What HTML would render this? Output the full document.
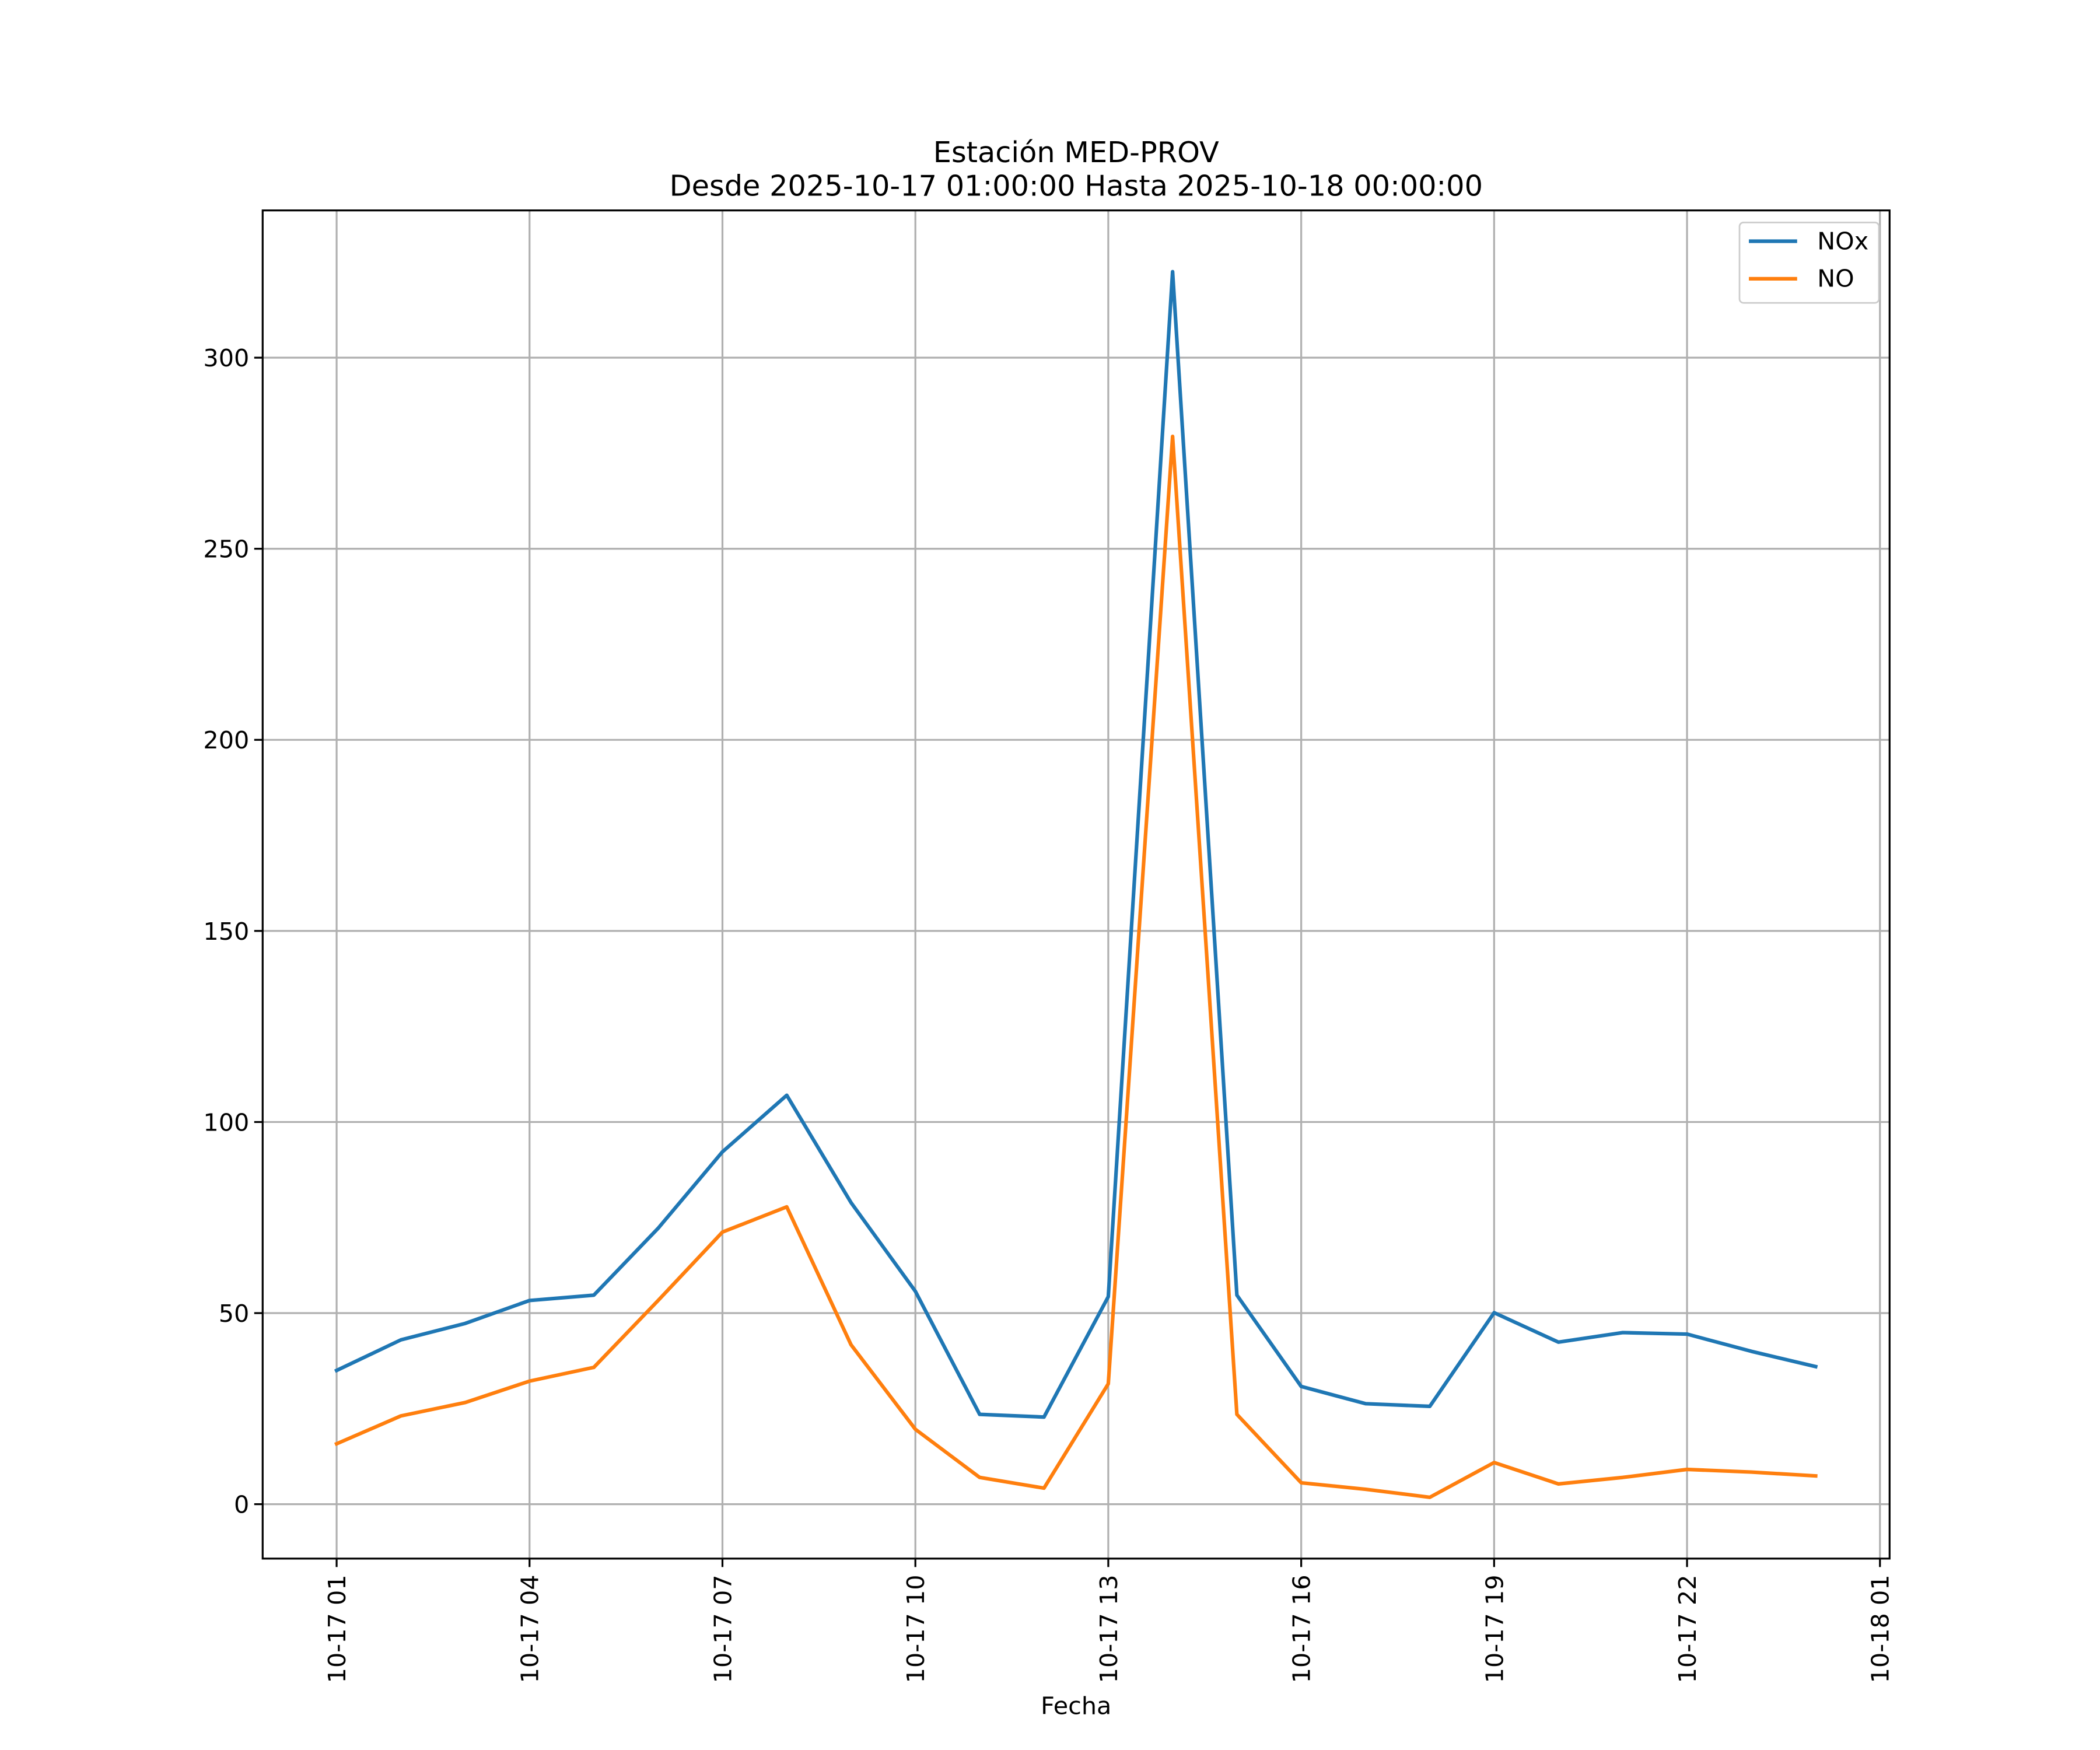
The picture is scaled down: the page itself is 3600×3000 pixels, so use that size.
<!DOCTYPE html>
<html><head><meta charset="utf-8"><style>html,body{margin:0;padding:0;background:#fff}svg{display:block}text{font-family:"DejaVu Sans","Liberation Sans",sans-serif;fill:#000}</style></head>
<body>
<svg id="chart" width="3600" height="3000" viewBox="0 0 1567 1305.83" xmlns="http://www.w3.org/2000/svg">
<rect width="1567" height="1306" fill="#fff"/>
<text x="803" y="121" text-anchor="middle" font-size="21.5">Estación MED-PROV</text>
<text x="803" y="146" text-anchor="middle" font-size="21.5">Desde 2025-10-17 01:00:00 Hasta 2025-10-18 00:00:00</text>
<g id="grid"></g><g id="series"></g><g id="ticks"></g>
<rect x="196" y="157" width="1214" height="1006" fill="none" stroke="#000" stroke-width="1.4"/>
<text x="803" y="1279" text-anchor="middle" font-size="18">Fecha</text>
<g>
<rect x="1298" y="166" width="104" height="60" rx="3" fill="#fff" fill-opacity="0.8" stroke="#ccc" stroke-width="1.2"/>
<line x1="1305" y1="180" x2="1341" y2="180" stroke="#1f77b4" stroke-width="2.7"/>
<text x="1356" y="186" font-size="18">NOx</text>
<line x1="1305" y1="208" x2="1341" y2="208" stroke="#ff7f0e" stroke-width="2.7"/>
<text x="1356" y="214" font-size="18">NO</text>
</g>
</svg>
<script>
const hours = [1,2,3,4,5,6,7,8,9,10,11,12,13,14,15,16,17,18,19,20,21,22,23,24];
const noxValues = [35,43,47.3,53.3,54.7,72.2,92.2,107,78.9,55.7,23.5,22.8,54.3,322.5,54.7,30.8,26.3,25.6,50.1,42.4,44.9,44.5,40,36];
const noValues = [15.8,23.1,26.6,32.2,35.8,53.3,71.2,77.8,41.7,19.6,7,4.2,31.5,279.4,23.5,5.6,3.9,1.8,10.9,5.3,7,9.1,8.4,7.4];
const yTicks = [0,50,100,150,200,250,300];
const xTickHours = [1,4,7,10,13,16,19,22,25];
const xTickLabels = ["10-17 01","10-17 04","10-17 07","10-17 10","10-17 13","10-17 16","10-17 19","10-17 22","10-18 01"];

const NS="http://www.w3.org/2000/svg";
const L=196,R=1410,T=157,B=1163;
const allV=noxValues.concat(noValues);
const vmin=Math.min(...allV),vmax=Math.max(...allV),vr=vmax-vmin;
const y0=vmin-0.05*vr,y1=vmax+0.05*vr;
const hmin=Math.min(...hours),hmax=Math.max(...hours),hr=hmax-hmin;
const x0=hmin-0.05*hr,x1=hmax+0.05*hr;
const sx=h=>L+(h-x0)/(x1-x0)*(R-L);
const sy=v=>B-(v-y0)/(y1-y0)*(B-T);
function mk(tag,attrs,parent){const e=document.createElementNS(NS,tag);for(const k in attrs)e.setAttribute(k,attrs[k]);parent.appendChild(e);return e;}
const grid=document.getElementById('grid'),ticks=document.getElementById('ticks'),series=document.getElementById('series');
yTicks.forEach(v=>{
  const y=sy(v);
  const g=mk('line',{x1:L,x2:R,y1:y,y2:y,stroke:'#b0b0b0','stroke-width':1.4},grid);
  
  
  const t=mk('line',{x1:L-6.3,x2:L,y1:y,y2:y,stroke:'#000','stroke-width':1.4},ticks);
  
  
  const tx=mk('text',{x:L-10,y:y+6.5,'text-anchor':'end','font-size':18},ticks);
  tx.textContent=v;
  
  
});
xTickHours.forEach((h,i)=>{
  const x=sx(h);
  const g=mk('line',{x1:x,x2:x,y1:T,y2:B,stroke:'#b0b0b0','stroke-width':1.4},grid);
  
  
  const t=mk('line',{x1:x,x2:x,y1:B,y2:B+6.3,stroke:'#000','stroke-width':1.4},ticks);
  
  
  const tx=mk('text',{x:0,y:0,'text-anchor':'end','font-size':18,transform:`translate(${x+6.5},${B+12}) rotate(-90)`},ticks);
  tx.textContent=xTickLabels[i];
  
  
});
function line(vals,color,name){
  const pts=hours.map((h,i)=>sx(h).toFixed(2)+','+sy(vals[i]).toFixed(2)).join(' ');
  const p=mk('polyline',{points:pts,fill:'none',stroke:color,'stroke-width':2.7,'stroke-linejoin':'round','stroke-linecap':'square'},series);
  
  
}
line(noxValues,'#1f77b4','nox-line');
line(noValues,'#ff7f0e','no-line');
</script>
</body></html>
